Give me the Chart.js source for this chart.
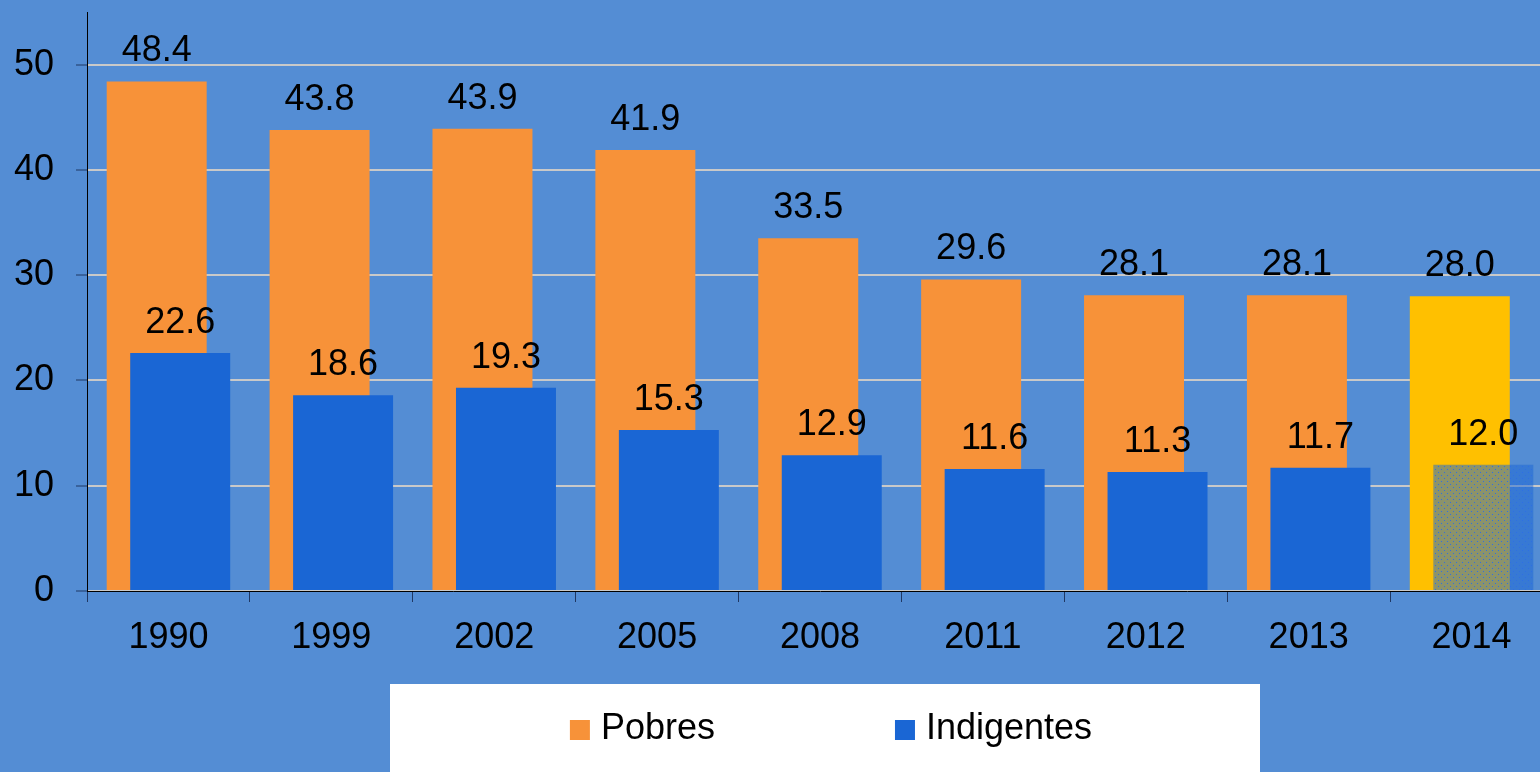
<!DOCTYPE html>
<html lang="es">
<head>
<meta charset="utf-8">
<title>Pobres e indigentes</title>
<script src="https://cdn.jsdelivr.net/npm/chart.js@4.4.1/dist/chart.umd.min.js"></script>
<style>
    html, body { margin: 0; padding: 0; overflow: hidden; background: #548DD4; }
    .chart-wrap { position: relative; width: 1553px; height: 772px; }
</style>
</head>
<body>
<div class="chart-wrap"><canvas id="povertyChart"></canvas></div>
<script>
    const years = ["1990", "1999", "2002", "2005", "2008", "2011", "2012", "2013", "2014"];
    const pobres = [48.4, 43.8, 43.9, 41.9, 33.5, 29.6, 28.1, 28.1, 28.0];
    const indigentes = [22.6, 18.6, 19.3, 15.3, 12.9, 11.6, 11.3, 11.7, 12.0];
    const seriesNames = ["Pobres", "Indigentes"];
    const yTicks = [0, 10, 20, 30, 40, 50];

    const FONT = '"Liberation Sans", Arial, sans-serif';
    const ORANGE = "#F79239";
    const BLUE = "#1A66D4";
    const GOLD = "#FFC000";

    const canvas = document.getElementById("povertyChart");

    // dotted fill used for the last (estimated) bar
    const dots = (() => {
        const tile = document.createElement("canvas");
        tile.width = 6;
        tile.height = 6;
        const c = tile.getContext("2d");
        c.fillStyle = "rgba(26, 102, 212, 0.5)";
        c.fillRect(0, 0, 6, 6);
        c.fillStyle = "#2E6FE4";
        c.fillRect(1, 1, 1, 1);
        c.fillRect(4, 4, 1, 1);
        return canvas.getContext("2d").createPattern(tile, "repeat");
    })();

    const last = years.length - 1;
    const pobresColors = years.map((_, i) => (i === last ? GOLD : ORANGE));
    const indigentesColors = years.map((_, i) => (i === last ? dots : BLUE));

    const valueLabels = {
        id: "valueLabels",
        afterDatasetsDraw(chart) {
            const { ctx } = chart;
            ctx.save();
            ctx.font = `36px ${FONT}`;
            ctx.fillStyle = "#000";
            ctx.textAlign = "center";
            ctx.textBaseline = "alphabetic";
            chart.data.datasets.forEach((ds, i) => {
                if (ds.spacer) return;
                chart.getDatasetMeta(i).data.forEach((bar, j) => {
                    ctx.fillText(ds.data[j].toFixed(1), bar.x, bar.y - 20);
                });
            });
            ctx.restore();
        },
    };

    const legendBox = {
        id: "legendBox",
        afterDraw(chart) {
            const { ctx } = chart;
            const items = chart.data.datasets.filter((ds) => !ds.spacer);
            ctx.save();
            ctx.fillStyle = "#fff";
            ctx.fillRect(390, 684, 870, 100);
            ctx.font = `36px ${FONT}`;
            ctx.textBaseline = "middle";
            ctx.textAlign = "left";
            const gap = 180;
            const widths = items.map((ds) => 31 + ctx.measureText(ds.label).width);
            const total = widths.reduce((a, b) => a + b, 0) + gap * (items.length - 1);
            let x = 831 - total / 2;
            items.forEach((ds, i) => {
                ctx.fillStyle = ds.backgroundColor[0];
                ctx.fillRect(x, 720, 20, 20);
                ctx.fillStyle = "#000";
                ctx.fillText(ds.label, x + 31, 729);
                x += widths[i] + gap;
            });
            ctx.restore();
        },
    };

    const noPadding = (scale) => {
        scale.paddingTop = 0;
        scale.paddingBottom = 0;
        scale.paddingLeft = 0;
        scale.paddingRight = 0;
    };

    const barShape = { categoryPercentage: 0.2885, barPercentage: 4.255 };

    new Chart(canvas, {
        type: "bar",
        data: {
            labels: years,
            datasets: [
                { label: seriesNames[0], data: pobres, backgroundColor: pobresColors, stack: "p", order: 2, ...barShape },
                { label: seriesNames[1], data: indigentes, backgroundColor: indigentesColors, stack: "i", order: 1, ...barShape },
                // empty helper so the orange bar sits left and the blue bar is drawn on top
                { label: "", data: years.map(() => null), stack: "p", order: 0, spacer: true, ...barShape },
            ],
        },
        options: {
            responsive: true,
            maintainAspectRatio: false,
            animation: false,
            layout: { padding: { top: 12, right: 0, bottom: 0, left: 0 } },
            plugins: {
                legend: { display: false },
                tooltip: { enabled: false },
            },
            scales: {
                x: {
                    afterFit: (scale) => { scale.height = 181; noPadding(scale); },
                    grid: { offset: true, drawOnChartArea: false, tickLength: 11, tickColor: "#1F3864", tickWidth: 1 },
                    border: { color: "#000", width: 1, z: 1 },
                    ticks: { color: "#000", padding: 14, font: { family: FONT, size: 36 } },
                },
                y: {
                    min: 0,
                    max: 55,
                    stacked: false,
                    afterFit: (scale) => { scale.width = 87; noPadding(scale); },
                    afterBuildTicks: (scale) => {
                        scale.ticks = yTicks.map((value) => ({ value }));
                    },
                    grid: { color: "#C9C9C9", lineWidth: 2, tickLength: 11, tickColor: "#1F3864", tickWidth: 1 },
                    border: { color: "#000", width: 1, z: 1 },
                    ticks: { color: "#000", padding: 22, font: { family: FONT, size: 36 } },
                },
            },
        },
        plugins: [valueLabels, legendBox],
    });
</script>
</body>
</html>
